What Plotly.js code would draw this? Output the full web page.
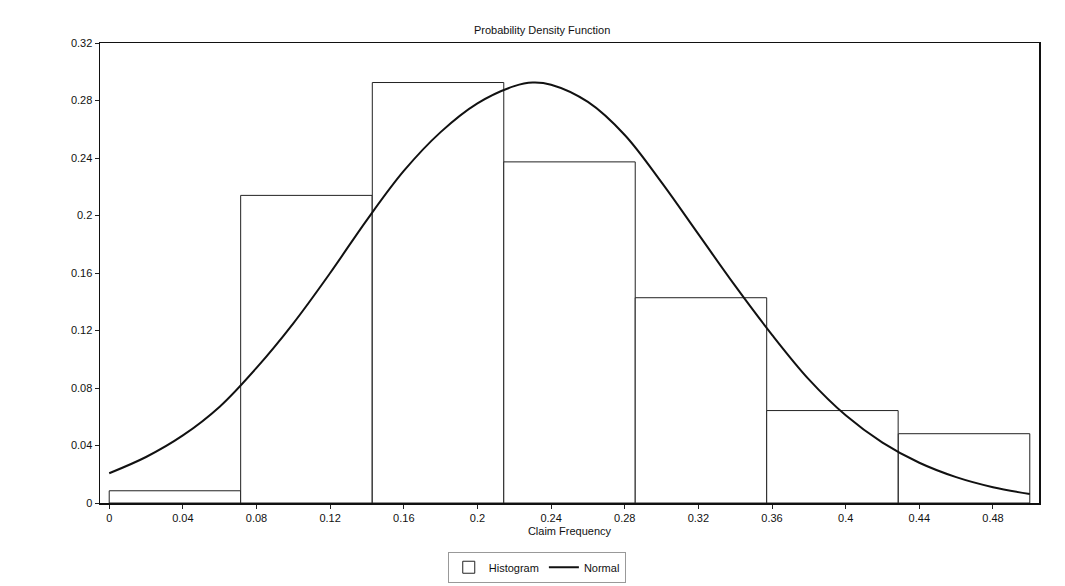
<!DOCTYPE html>
<html>
<head>
<meta charset="utf-8">
<script src="https://cdn.plot.ly/plotly-3.0.1.min.js"></script>
<style>html,body{margin:0;padding:0;background:#fff;}</style>
</head>
<body>
<div id="chart" style="width:1065px;height:586px;"></div>
<script>
// Histogram bins (start of each bin) and heights
const binStarts = [0, 0.0714, 0.1429, 0.2143, 0.2857, 0.3571, 0.4286];
const binWidth = 0.0714;
const histValues = [0.0085, 0.214, 0.2925, 0.2373, 0.1428, 0.0643, 0.0482];

// Normal curve
const normalX = [0, 0.02, 0.04, 0.06, 0.08, 0.10, 0.12, 0.14, 0.16, 0.18, 0.20, 0.22, 0.23, 0.24, 0.26, 0.28, 0.30, 0.32, 0.34, 0.36, 0.38, 0.40, 0.42, 0.44, 0.46, 0.48, 0.50];
const normalY = [0.0207, 0.032, 0.047, 0.067, 0.094, 0.125, 0.160, 0.197, 0.231, 0.258, 0.278, 0.290, 0.2925, 0.291, 0.279, 0.256, 0.223, 0.187, 0.151, 0.117, 0.086, 0.061, 0.042, 0.028, 0.018, 0.011, 0.0063];

const yTicks = [0, 0.04, 0.08, 0.12, 0.16, 0.2, 0.24, 0.28, 0.32];
const xTicks = [0, 0.04, 0.08, 0.12, 0.16, 0.2, 0.24, 0.28, 0.32, 0.36, 0.4, 0.44, 0.48];

const font = {family: 'Liberation Sans, Arial, sans-serif', size: 11, color: '#111'};

const traces = [
  {
    type: 'bar', name: 'Histogram',
    x: binStarts, y: histValues, width: binWidth, offset: 0,
    marker: {color: '#ffffff', line: {color: '#222222', width: 1}},
    hoverinfo: 'x+y'
  },
  {
    type: 'scatter', mode: 'lines', name: 'Normal',
    x: normalX, y: normalY,
    line: {color: '#111111', width: 2, shape: 'spline', smoothing: 1}
  }
];

const layout = {
  width: 1065, height: 586,
  margin: {l: 100, r: 26, t: 43, b: 83, autoexpand: false},
  paper_bgcolor: '#ffffff', plot_bgcolor: '#ffffff',
  font: font,
  title: {text: 'Probability Density Function', font: {family: font.family, size: 11, color: '#111'},
          x: 0.509, xref: 'container', xanchor: 'center', y: 0.949, yref: 'container', yanchor: 'middle'},
  bargap: 0,
  showlegend: true,
  legend: {orientation: 'h', x: 0.504, xref: 'container', xanchor: 'center',
           y: 0.032, yref: 'container', yanchor: 'middle',
           bordercolor: '#999999', borderwidth: 1, font: font, itemwidth: 30,
           tracegroupgap: 0},
  xaxis: {
    range: [-0.005, 0.505], tickvals: xTicks, ticktext: xTicks.map(String),
    ticks: 'outside', ticklen: 4, tickcolor: '#222', showgrid: false, zeroline: false,
    showline: true, linecolor: '#111', linewidth: 1.5, mirror: true,
    tickfont: font, automargin: false,
    title: {text: 'Claim Frequency', font: font, standoff: 4}
  },
  yaxis: {
    range: [0, 0.32], tickvals: yTicks, ticktext: yTicks.map(String),
    ticks: 'outside', ticklen: 4, tickcolor: '#222', showgrid: false, zeroline: false,
    showline: true, linecolor: '#111', linewidth: 1.5, mirror: true,
    tickfont: font, automargin: false
  }
};

Plotly.newPlot('chart', traces, layout, {displayModeBar: false, staticPlot: true});
</script>
</body>
</html>
